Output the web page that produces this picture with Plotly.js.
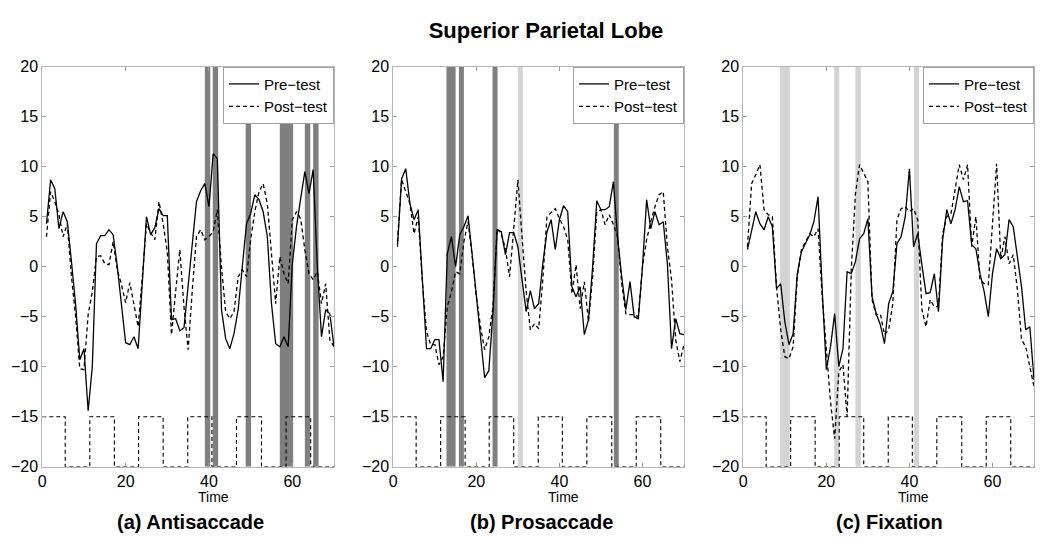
<!DOCTYPE html>
<html>
<head>
<meta charset="utf-8">
<script src="https://cdn.plot.ly/plotly-3.0.1.min.js"></script>
<style>
  html, body { margin: 0; padding: 0; background: #fff; }
  #chart { width: 1050px; height: 552px; }
</style>
</head>
<body>
<div id="chart"></div>
<script>
// signal values, one sample per time unit starting at t = 1
const antiPre = [4.3, 8.7, 7.8, 3.8, 5.5, 4.5, 0.5, -3.8, -9.3, -8.2,
  -14.4, -10, 2.3, 3.1, 3.1, 3.7, 3.2, 0, -3.8, -7.6,
  -7.8, -7, -8.2, -1.5, 5, 3.2, 3.9, 5.8, 5.1, 5.1,
  -5.3, -5.2, -6.4, -6.1, -1.9, 2.3, 6.5, 7.6, 8.3, 6,
  11.3, 10.8, -4.3, -7.2, -8.2, -6.7, -4.3, 0, 4.3, 5.3,
  7.2, 6.7, 5.5, 3, -3.7, -7.7, -8, -7, -8, 0.3,
  4, 6.8, 9.5, 7.3, 9.7, 0, -7, -4.3, -4.7, -8];
const antiPost = [3, 7.5, 6.5, 5.2, 3, 4.3, -1, -5, -10.2, -10.3,
  -4.8, -2.5, 1, 1.1, 0.3, 0.2, 2.5, -0.3, -1.8, -3.6,
  -1.6, -4, -6, -1, 4.3, 3.4, 2.7, 6.5, 4.3, 1.5,
  -6.8, -2.5, 1.7, -4, -8.3, -2.3, 3, 3.7, 2.7, 3,
  3.5, 5.7, 0, -4.5, -5.2, -4.5, -1, -0.3, -1, 2.7,
  5.5, 7.5, 8.3, 6.3, 1.7, -3.7, 1, -0.7, -1.7, 4.7,
  5.5, 4.8, 1.7, -0.7, -1.3, -0.5, -3.7, -1.7, -7.3, -8];

const proPre = [2, 8.8, 9.8, 6.3, 4.7, 5.7, -1.3, -8.2, -8.2, -7.3,
  -7.3, -11.5, 1.3, 3, 0, 3.2, 4, 5.1, 1.2, -2.8,
  -7, -11.1, -10.4, -4.5, 3.7, 3.5, 1.2, 3.4, 3.4, 2,
  -1.3, -4.5, -2.4, -4.2, -3.7, 0.3, 3.5, 4.7, 1.7, 4.7,
  6.1, 5.5, -2, -3, -2, -6.8, -5.3, 0, 6.6, 5.7,
  5.7, 6, 8.5, 3, -1, -4.3, -1.5, -5, -5.2, 0,
  6.7, 3.8, 5.5, 4.2, 4.5, 0.3, -8.2, -5.2, -6.7, -6.8];
const proPost = [2.5, 8.7, 7.5, 6.3, 3.3, 5, -1.5, -6.5, -7.8, -7.8,
  -9.8, -9, -4, -2.5, -0.5, -0.7, 2.5, 4.5, 1, -3,
  -6, -8.3, -7, -4, 3.8, 3.3, 1.8, -1, 3.8, 8.7,
  3, -2.5, -6.3, -5.7, -6.2, -1.3, 5, 5.4, 5.8, 4.8,
  4, 2.7, -2.7, 0.2, -4.2, -1.5, -5.5, -1, 5.5, 5.7,
  4.2, 5.2, 4.2, 3, -1.7, -4.7, -4.8, -4.8, -5, 0,
  2.7, 4.5, 6, 7.2, 7.5, 2, -1.3, -7.3, -9.5, -7.8];

const fixPre = [1.7, 3.7, 5.5, 4.3, 3.7, 5, 4, -2.2, -1.7, -5.5,
  -7.8, -6.7, -0.7, 1.5, 2.3, 3.2, 4.5, 7, -2.3, -10.3,
  -8, -4.7, -10, -8.2, -0.5, -0.7, 0.5, 2.8, 3.3, 4.8,
  -3, -4.7, -5.8, -7.7, -3.7, -2.5, 2.3, 3, 5, 9.8,
  2, 3.3, 0.2, -2.7, -2.6, -0.7, -4.5, 2.7, 5.7, 4.3,
  5.7, 8, 6.5, 6.6, 2.2, 1.8, -0.7, -2.5, -5, -0.7,
  1.8, 0.8, 1.2, 4.7, 4, 1, -2, -6.3, -6, -11.3];
const fixPost = [2, 8.3, 9.2, 10.2, 5.7, 5.2, 5, -2, -6.3, -9,
  -9.2, -8, -1, 1.7, 2.5, 3.3, 3, 3.8, -3, -8.5,
  -13.5, -17.2, -10.5, -9.8, -15, -0.3, 7.3, 10.2, 9.3, 8.5,
  -3.3, -4.8, -4.7, -6.8, -6.3, -3.7, 4.7, 5.8, 6, 5.5,
  5.8, 4.7, -4.3, -6, -3.3, -4, -4, 3.3, 5, 5.3,
  7.7, 10.2, 8.7, 10.2, 2, 5, -1.3, -1.7, -1.8, 4,
  10.3, 0.8, 3, 0.3, 1.2, -2.3, -7.3, -8, -10, -12];

// task block timing (dashed square wave at the bottom)
const blockEdges = [0, 5.5, 11.4, 17.3, 23.1, 29, 34.9, 40.7, 46.6, 52.6, 58.5, 64.4, 70];
const blockLevels = [-15, -20, -15, -20, -15, -20, -15, -20, -15, -20, -15, -20, -20];

// significant time windows [start, end]
const antiDark = [[39, 40.3], [40.9, 42.2], [48.8, 50.1], [57, 60.2], [63, 64.3], [65, 66.3]];
const antiLight = [];
const proDark = [[12.8, 15], [15.8, 17], [23.9, 25.1], [53.1, 54.3]];
const proLight = [[30, 31.2]];
const fixDark = [];
const fixLight = [[8.8, 11.2], [21.9, 23.1], [27, 28.3], [41.1, 42.3]];

const panels = [
  {pre: antiPre, post: antiPost, dark: antiDark, light: antiLight, label: '(a) Antisaccade'},
  {pre: proPre, post: proPost, dark: proDark, light: proLight, label: '(b) Prosaccade'},
  {pre: fixPre, post: fixPost, dark: fixDark, light: fixLight, label: '(c) Fixation'}
];

const W = 1050, H = 552;
const xDom = [[42.3, 334], [393.3, 684], [743.3, 1034]];
const yDom = [(H - 466.7) / H, (H - 66.7) / H];
const timeX = [213, 563, 913];
const labelX = [190, 541, 889];
const font = 'Liberation Sans, Arial, Helvetica, sans-serif';

let data = [];
let shapes = [];
let annotations = [];
let layout = {
  width: W, height: H,
  margin: {l: 0, r: 0, t: 0, b: 0},
  paper_bgcolor: 'white', plot_bgcolor: 'white',
  font: {family: font, color: 'black', size: 16},
  title: {
    text: '<b>Superior Parietal Lobe</b>',
    font: {size: 22, family: font, color: 'black'},
    x: 546 / W, xanchor: 'center',
    y: 1 - 30 / H, yref: 'container', yanchor: 'middle'
  }
};

panels.forEach((p, i) => {
  let n = i === 0 ? '' : String(i + 1);
  let xa = 'x' + n, ya = 'y' + n;
  let lg = 'legend' + n;

  data.push({
    y: p.pre, x0: 1, dx: 1, xaxis: xa, yaxis: ya,
    type: 'scatter', mode: 'lines', name: 'Pre\u2212test', legend: lg,
    line: {color: 'black', width: 1.3}
  });
  data.push({
    y: p.post, x0: 1, dx: 1, xaxis: xa, yaxis: ya,
    type: 'scatter', mode: 'lines', name: 'Post\u2212test', legend: lg,
    line: {color: 'black', width: 1.3, dash: '4px,3px'}
  });
  data.push({
    x: blockEdges, y: blockLevels, xaxis: xa, yaxis: ya,
    type: 'scatter', mode: 'lines', showlegend: false, legend: lg,
    line: {color: 'black', width: 1.1, dash: '4px,3px', shape: 'hv'}
  });

  // shaded windows, behind the curves
  p.dark.forEach(w => shapes.push({
    type: 'rect', xref: xa, yref: ya, x0: w[0], x1: w[1], y0: -20, y1: 20,
    fillcolor: '#7f7f7f', line: {width: 0}, layer: 'below'
  }));
  p.light.forEach(w => shapes.push({
    type: 'rect', xref: xa, yref: ya, x0: w[0], x1: w[1], y0: -20, y1: 20,
    fillcolor: '#d3d3d3', line: {width: 0}, layer: 'below'
  }));

  layout['xaxis' + n] = {
    domain: [xDom[i][0] / W, xDom[i][1] / W], anchor: ya,
    range: [0, 70], tickvals: [0, 20, 40, 60],
    ticks: 'inside', ticklen: 4, tickcolor: '#999',
    linecolor: '#b5b5b5', linewidth: 1, mirror: 'ticks',
    showgrid: false, zeroline: false,
    tickfont: {size: 16, color: 'black', family: font}
  };
  layout['yaxis' + n] = {
    domain: yDom, anchor: xa,
    range: [-20, 20], dtick: 5,
    ticks: 'inside', ticklen: 4, tickcolor: '#999',
    linecolor: '#b5b5b5', linewidth: 1, mirror: 'ticks',
    showgrid: false, zeroline: false,
    tickfont: {size: 16, color: 'black', family: font}
  };
  layout[lg] = {
    x: xDom[i][1] / W, xanchor: 'right', y: yDom[1], yanchor: 'top',
    bgcolor: 'white', bordercolor: '#a0a0a0', borderwidth: 1,
    font: {size: 15, color: 'black', family: font},
    tracegroupgap: 0, itemwidth: 30
  };

  annotations.push({
    text: 'Time', xref: 'paper', yref: 'paper',
    x: timeX[i] / W, y: (H - 497) / H, xanchor: 'center', yanchor: 'middle',
    showarrow: false, font: {size: 14, color: 'black', family: font}
  });
  annotations.push({
    text: '<b>' + p.label + '</b>', xref: 'paper', yref: 'paper',
    x: labelX[i] / W, y: (H - 522) / H, xanchor: 'center', yanchor: 'middle',
    showarrow: false, font: {size: 20, color: 'black', family: font}
  });
});

layout.shapes = shapes;
layout.annotations = annotations;

Plotly.newPlot('chart', data, layout, {displayModeBar: false, staticPlot: true});
</script>
</body>
</html>
